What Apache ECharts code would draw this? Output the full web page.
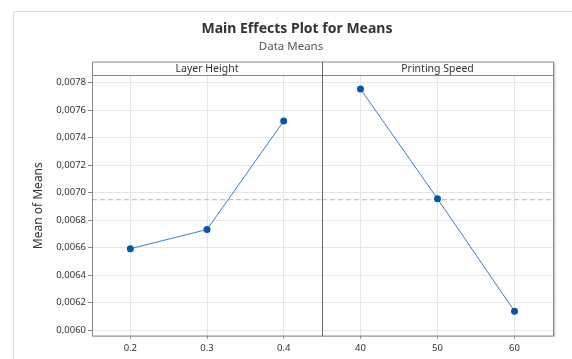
<!DOCTYPE html>
<html><head><meta charset="utf-8">
<script src="https://cdn.jsdelivr.net/npm/echarts@6/dist/echarts.min.js"></script>
<style>html,body{margin:0;padding:0;background:#fff}#c{width:572px;height:359px}</style>
</head><body><div id="c"></div>
<script>
const titleText = 'Main Effects Plot for Means';
const subtitleText = 'Data Means';
const panelNames = ['Layer Height', 'Printing Speed'];
const layerHeights = ['0.2', '0.3', '0.4'];
const layerMeans = [0.006593, 0.006732, 0.007521];
const speeds = ['40', '50', '60'];
const speedMeans = [0.007754, 0.006956, 0.006138];
const yMin = 0.00596, yMax = 0.007851;

const allVals = layerMeans.concat(speedMeans);
const grandMean = allVals.reduce((a, b) => a + b, 0) / allVals.length;

const FONT = 'Noto Sans';
const chart = echarts.init(document.getElementById('c'), null, {renderer: 'canvas'});

const gridL = 92, gridMid = 322, gridR = 553, gridTop = 75.7, gridBottom = 23.3, headTop = 61.5;
const boxBottom = 359 - gridBottom;

function xAxis(idx, cats) {
  return {
    type: 'category', gridIndex: idx, data: cats, boundaryGap: true,
    axisLine: {show: false},
    axisTick: {show: true, alignWithLabel: true, length: 3, lineStyle: {color: '#888'}},
    axisLabel: {color: '#333', fontSize: 9.5, fontFamily: FONT, margin: 8},
    splitLine: {show: true, alignWithLabel: true, lineStyle: {color: '#e6e6e6', width: 1}}
  };
}
function hiddenX(idx) {
  return {type: 'value', gridIndex: idx, min: 0, max: 1, show: false, splitLine: {show: false}};
}
function yAxis(idx, showLabels) {
  return {
    type: 'value', gridIndex: idx, min: yMin, max: yMax, splitNumber: 9,
    minInterval: 0.0002, maxInterval: 0.0002,
    name: showLabels ? 'Mean of Means' : '', nameLocation: 'middle', nameGap: 47,
    nameTextStyle: {color: '#333', fontSize: 12, fontFamily: FONT},
    axisLine: {show: false},
    axisTick: {show: showLabels, length: 4, lineStyle: {color: '#888'}},
    axisLabel: {show: showLabels, color: '#333', fontSize: 9.5, fontFamily: FONT, margin: 6,
      formatter: v => v.toFixed(4).replace('.', ',')},
    splitLine: {show: true, lineStyle: {color: '#e6e6e6', width: 1}}
  };
}
function series(idx, vals) {
  return {
    type: 'line', xAxisIndex: idx, yAxisIndex: idx, data: vals,
    symbol: 'circle', symbolSize: 7, showSymbol: true, z: 5,
    lineStyle: {color: '#3f7fc6', width: 1},
    itemStyle: {color: '#0a55a8'},
    emphasis: {disabled: true}
  };
}
function meanSeries(idx) {
  return {
    type: 'line', xAxisIndex: idx + 2, yAxisIndex: idx, z: 3,
    data: [[0, grandMean], [1, grandMean]],
    symbol: 'none', silent: true,
    lineStyle: {color: '#b4b4b4', type: [5, 3], width: 1},
    emphasis: {disabled: true}
  };
}

chart.setOption({
  animation: false,
  backgroundColor: '#fff',
  grid: [
    {left: gridL, top: gridTop, width: gridMid - gridL, bottom: gridBottom, show: false, containLabel: false},
    {left: gridMid, top: gridTop, width: gridR - gridMid, bottom: gridBottom, show: false, containLabel: false}
  ],
  xAxis: [xAxis(0, layerHeights), xAxis(1, speeds), hiddenX(0), hiddenX(1)],
  yAxis: [yAxis(0, true), yAxis(1, false)],
  series: [meanSeries(0), meanSeries(1), series(0, layerMeans), series(1, speedMeans)],
  graphic: [
    {type: 'rect', shape: {x: 13.5, y: 11.5, width: 700, height: 500}, style: {fill: 'none', stroke: '#dcdcdc', lineWidth: 1}, z: -10, silent: true},
    {type: 'rect', shape: {x: gridR + 1, y: headTop + 1, width: 1.5, height: boxBottom - headTop}, style: {fill: '#d0d0d0'}, z: 0, silent: true},
    {type: 'rect', shape: {x: gridL + 0.5, y: headTop + 0.5, width: gridR - gridL, height: boxBottom - headTop}, style: {fill: 'none', stroke: '#888', lineWidth: 1}, z: 10, silent: true},
    {type: 'line', shape: {x1: gridL + 0.5, y1: 75.5, x2: gridR + 0.5, y2: 75.5}, style: {stroke: '#888', lineWidth: 1}, z: 10, silent: true},
    {type: 'line', shape: {x1: gridMid + 0.5, y1: headTop + 0.5, x2: gridMid + 0.5, y2: boxBottom + 0.5}, style: {stroke: '#666', lineWidth: 1}, z: 10, silent: true},
    {type: 'text', style: {text: panelNames[0], x: (gridL + gridMid) / 2, y: 69, align: 'center', verticalAlign: 'middle', fill: '#333', font: '10.5px "Noto Sans"'}, z: 10},
    {type: 'text', style: {text: panelNames[1], x: (gridMid + gridR) / 2, y: 69, align: 'center', verticalAlign: 'middle', fill: '#333', font: '10.5px "Noto Sans"'}, z: 10},
    {type: 'text', style: {text: titleText, x: 297, y: 29, align: 'center', verticalAlign: 'middle', fill: '#333', font: 'bold 14px "Noto Sans"'}},
    {type: 'text', style: {text: subtitleText, x: 291, y: 46.5, align: 'center', verticalAlign: 'middle', fill: '#555', font: '11.5px "Noto Sans"'}}
  ]
});
</script></body></html>
